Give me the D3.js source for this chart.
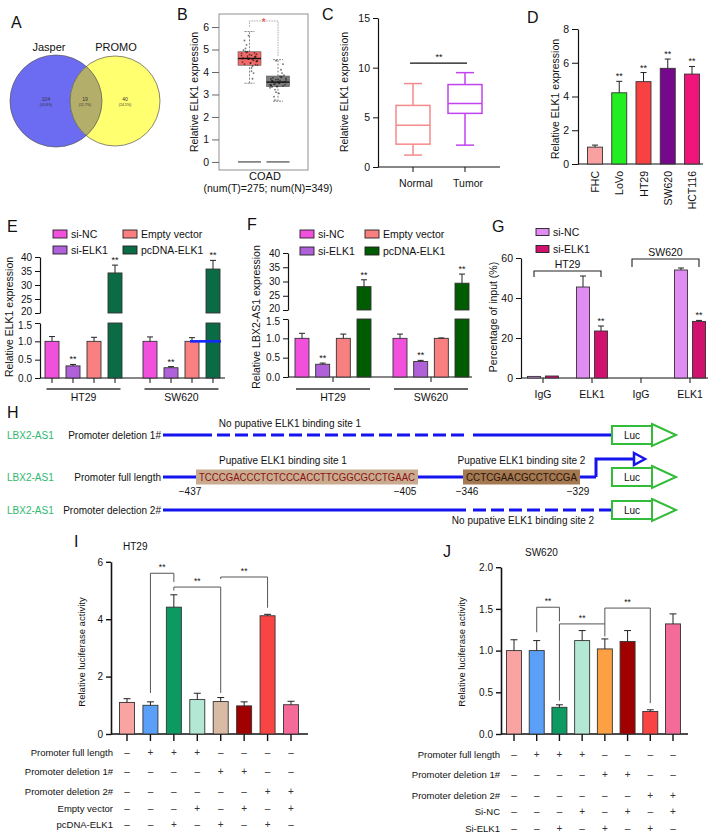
<!DOCTYPE html>
<html>
<head>
<meta charset="utf-8">
<title>ELK1 / LBX2-AS1</title>
<script src="https://cdn.jsdelivr.net/npm/d3@7"></script>
<style>
  html, body { margin: 0; padding: 0; background: #fff; }
  svg { display: block; }
</style>
</head>
<body>
<script>
'use strict';

// ---------- data ----------
var vennNames = ['Jasper', 'PROMO'];
var vennCounts = [104, 19, 40];
var vennShares = ['(63.8%)', '(11.7%)', '(24.5%)'];

var coadGroups = ['Tumor', 'Normal'];
var coadMin = [3.5, 2.7], coadQ1 = [4.3, 3.35], coadMed = [4.6, 3.55], coadQ3 = [4.9, 3.82], coadMax = [5.8, 4.55];
var coadTumorPts = [4.62, 4.55, 4.71, 4.48, 4.83, 4.39, 4.66, 4.92, 4.31, 4.58, 4.75, 4.44, 4.68, 4.87, 4.52, 4.61, 4.35, 4.79, 4.97, 4.26,
  4.64, 4.50, 4.73, 4.41, 4.85, 5.05, 4.18, 4.57, 4.69, 5.21, 3.95, 4.60, 4.77, 4.46, 5.40, 3.70, 4.90, 4.33, 5.62, 4.04];
var coadTumorJit = [-6, 3, -2, 7, -8, 1, 5, -4, 8, -1, 2, -7, 6, -3, 4, 0, -5, 7, -6, 3, -2, 8, -8, 1, 5, -4, 2, -1, 6, -3, 4, -7, 0, 7, -5, 3, -2, 6, -1, 2];
var coadNormalPts = [3.55, 3.48, 3.62, 3.40, 3.71, 3.36, 3.58, 3.80, 3.30, 3.52, 3.66, 3.44, 3.60, 3.76, 3.46, 3.57, 3.38, 3.69, 3.86, 3.22,
  3.54, 3.43, 3.64, 3.35, 3.74, 3.95, 3.10, 3.50, 3.61, 4.10, 2.90, 3.56, 3.67, 3.41, 4.35, 2.75, 3.82, 3.33, 3.05, 4.50];
var coadNormalJit = [5, -3, 2, -7, 8, -1, -5, 4, -8, 1, -2, 7, -6, 3, -4, 0, 5, -7, 6, -3, 2, -8, 8, -1, -5, 4, -2, 1, -6, 3, -4, 7, 0, -7, 5, -3, 2, -6, 1, -2];
var coadTicks = [0, 1, 2, 3, 4, 5, 6];

var tissueGroups = ['Normal', 'Tumor'];
var tissueMin = [1.2, 2.2], tissueQ1 = [2.3, 5.4], tissueMed = [4.2, 6.4], tissueQ3 = [6.2, 8.3], tissueMax = [8.4, 9.5];

var cellLines = ['FHC', 'LoVo', 'HT29', 'SW620', 'HCT116'];
var cellElk1 = [1.0, 4.22, 4.88, 5.67, 5.33];
var cellElk1Err = [1.12, 4.9, 5.42, 6.22, 5.78];

var crcLines = ['HT29', 'SW620'];
var transSeries = ['si-NC', 'si-ELK1', 'Empty vector', 'pcDNA-ELK1'];
var elk1Vals = [[1.0, 0.33, 1.0, 34.3], [1.0, 0.28, 1.0, 35.7]];
var elk1Err = [[1.13, 0.37, 1.11, 37.1], [1.12, 0.31, 1.10, 38.8]];
var lbxVals = [[1.0, 0.33, 1.0, 28.2], [1.0, 0.40, 1.0, 29.4]];
var lbxErr = [[1.13, 0.36, 1.11, 30.6], [1.11, 0.43, 1.01, 32.6]];
var lowTicks = [0, 0.5, 1.0, 1.5], highTicks = [20, 25, 30, 35, 40];

var chipCats = ['IgG', 'ELK1', 'IgG', 'ELK1'];
var chipCells = ['HT29', 'SW620'];
var chipSeries = ['si-NC', 'si-ELK1'];
var chipVals = [[0.8, 1.0], [45.5, 23.5], [0, 0], [54.0, 28.3]];
var chipErr = [[0.9, 1.2], [51.0, 26.0], [0, 0], [55.0, 28.8]];
var chipTicks = [0, 20, 40, 60];

var siteLabels = ['Pupative ELK1 binding site 1', 'Pupative ELK1 binding site 2'];
var siteSeqs = ['TCCCGACCCTCTCCCACCTTCGGCGCCTGAAC', 'CCTCGAACGCCTCCGA'];
var siteStart = [-437, -346], siteEnd = [-405, -329];
var constructNames = ['Promoter deletion 1#', 'Promoter full length', 'Promoter delection 2#'];

var lucHT29Rows = ['Promoter full length', 'Promoter deletion 1#', 'Promoter deletion 2#', 'Empty vector', 'pcDNA-ELK1'];
var lucHT29Signs = ['–+++––––', '––––++––', '––––––++', '–––+–+–+', '––+–+–+–'];
var lucHT29 = [1.1, 1.0, 4.42, 1.2, 1.13, 0.98, 4.12, 1.02];
var lucHT29Err = [1.23, 1.12, 4.85, 1.42, 1.27, 1.12, 4.17, 1.14];
var lucHT29Ticks = [0, 2, 4, 6];
var lucHT29Brackets = [[1, 2, 5.6, 1.43, 5.3], [2, 4, 5.12, 5.0, 1.43], [4, 6, 5.47, 5.4, 4.4]];

var lucSW620Rows = ['Promoter full length', 'Promoter deletion 1#', 'Promoter deletion 2#', 'Si-NC', 'Si-ELK1'];
var lucSW620Signs = ['–+++––––', '––––++––', '––––––++', '–––+–+–+', '––+–+–+–'];
var lucSW620 = [1.0, 1.0, 0.32, 1.12, 1.02, 1.11, 0.27, 1.32];
var lucSW620Err = [1.13, 1.12, 0.35, 1.24, 1.14, 1.24, 0.29, 1.44];
var lucSW620Ticks = [0, 0.5, 1.0, 1.5, 2.0];
var lucSW620Brackets = [[1, 2, 1.52, 1.22, 1.35], [2, 4, 1.32, 0.4, 1.17], [4, 6, 1.51, 1.32, 0.37]];

// ---------- helpers ----------
var FONT = '"Liberation Sans", Arial, Helvetica, sans-serif';
var svg = d3.select('body').append('svg')
	.attr('width', 716).attr('height', 837)
	.attr('font-family', FONT);
svg.append('rect').attr('width', 716).attr('height', 837).attr('fill', '#fff');

function addText(g, s, x, y, size, anchor, fill) {
	return g.append('text')
		.attr('x', x).attr('y', y)
		.attr('font-size', size)
		.attr('text-anchor', anchor || 'start')
		.attr('fill', fill || '#111')
		.text(s);
}

function vText(g, s, cx, cy, size) {
	return g.append('text')
		.attr('transform', 'translate(' + cx + ',' + cy + ') rotate(-90)')
		.attr('text-anchor', 'middle')
		.attr('dy', '0.35em')
		.attr('font-size', size)
		.attr('fill', '#111')
		.text(s);
}

function styleAxis(a, size, width) {
	a.attr('font-family', FONT).attr('font-size', size);
	a.selectAll('line').attr('stroke', '#111').attr('stroke-width', 1);
	a.select('.domain').attr('stroke', '#111').attr('stroke-width', width || 1.2);
	a.selectAll('text').attr('fill', '#111');
	return a;
}

function hLine(g, x1, x2, y, color, w) {
	return g.append('line').attr('x1', x1).attr('x2', x2).attr('y1', y).attr('y2', y)
		.attr('stroke', color || '#111').attr('stroke-width', w || 1);
}

function vLine(g, x, y1, y2, color, w) {
	return g.append('line').attr('x1', x).attr('x2', x).attr('y1', y1).attr('y2', y2)
		.attr('stroke', color || '#111').attr('stroke-width', w || 1);
}

function errBar(g, x, yTop, yBase, cap) {
	vLine(g, x, yBase, yTop, '#222', 1);
	hLine(g, x - cap / 2, x + cap / 2, yTop, '#222', 1);
}

function bar(g, x, w, y0, y1, fill) {
	g.append('rect')
		.attr('x', x - w / 2).attr('y', Math.min(y0, y1))
		.attr('width', w).attr('height', Math.abs(y1 - y0))
		.attr('fill', fill).attr('stroke', '#333').attr('stroke-width', 0.9);
}

function stars(g, x, y, size) {
	addText(g, '**', x, y, size || 9, 'middle');
}

// panel letters
[['A', 11, 28], ['B', 177, 20], ['C', 322, 20], ['D', 527, 23], ['E', 7, 232], ['F', 247, 230],
	['G', 492, 232], ['H', 7, 418], ['I', 74, 547], ['J', 443, 557]].forEach(function (p) {
	addText(svg, p[0], p[1], p[2], 16);
});

// ---------- A : venn ----------
(function () {
	var g = svg.append('g');
	var cx = [56, 115], cy = 101, r = [46, 45];
	g.append('defs').append('clipPath').attr('id', 'clipPromo')
		.append('circle').attr('cx', cx[1]).attr('cy', cy).attr('r', r[1]);
	g.append('circle').attr('cx', cx[0]).attr('cy', cy).attr('r', r[0]).attr('fill', '#6c6cf2');
	g.append('circle').attr('cx', cx[1]).attr('cy', cy).attr('r', r[1]).attr('fill', '#ffff70');
	g.append('circle').attr('cx', cx[0]).attr('cy', cy).attr('r', r[0]).attr('fill', '#b4ae6b')
		.attr('clip-path', 'url(#clipPromo)');
	[0, 1].forEach(function (i) {
		g.append('circle').attr('cx', cx[i]).attr('cy', cy).attr('r', r[i])
			.attr('fill', 'none').attr('stroke', '#555').attr('stroke-width', 0.7);
		addText(g, vennNames[i], [49, 116][i], 51, 11, 'middle');
	});
	var nx = [46, 85, 125];
	vennCounts.forEach(function (c, i) {
		addText(g, c, nx[i], 101, 5, 'middle', '#333');
		addText(g, vennShares[i], nx[i], 106, 3.6, 'middle', '#333');
	});
}());

// ---------- B : GEPIA box ----------
(function () {
	var g = svg.append('g');
	var y = d3.scaleLinear().domain([-0.36, 6.58]).range([170, 14]);
	var x = d3.scalePoint().domain(coadGroups).range([249.5, 278]);
	var fills = ['#f25a5a', '#6e6e6e'];
	var pts = [coadTumorPts, coadNormalPts], jit = [coadTumorJit, coadNormalJit];

	g.append('rect').attr('x', 219).attr('y', 14).attr('width', 89).attr('height', 156)
		.attr('fill', 'none').attr('stroke', '#777').attr('stroke-width', 0.8);
	var ax = g.append('g').attr('transform', 'translate(219,0)')
		.call(d3.axisLeft(y).tickValues(coadTicks).tickFormat(d3.format('d')).tickSize(7).tickPadding(3).tickSizeOuter(0));
	ax.select('.domain').remove();
	styleAxis(ax, 10.5);
	ax.selectAll('line').attr('stroke', '#666');
	vText(g, 'Relative ELK1 expression', 194, 92, 10.5);

	coadGroups.forEach(function (grp, i) {
		var cx = x(grp), hw = 11.5;
		[[coadMin[i], coadQ1[i]], [coadQ3[i], coadMax[i]]].forEach(function (w) {
			vLine(g, cx, y(w[0]), y(w[1]), '#666', 0.8).attr('stroke-dasharray', '2,1.5');
		});
		[coadMin[i], coadMax[i]].forEach(function (v) {
			hLine(g, cx - 5, cx + 5, y(v), '#666', 0.8).attr('stroke-dasharray', '2,1');
		});
		g.append('rect').attr('x', cx - hw).attr('width', 2 * hw)
			.attr('y', y(coadQ3[i])).attr('height', y(coadQ1[i]) - y(coadQ3[i]))
			.attr('fill', fills[i]).attr('fill-opacity', 0.9)
			.attr('stroke', '#555').attr('stroke-width', 0.6);
		pts[i].forEach(function (v, k) {
			g.append('circle').attr('cx', cx + jit[i][k]).attr('cy', y(v)).attr('r', 0.9)
				.attr('fill', '#111').attr('fill-opacity', 0.6);
		});
		hLine(g, cx - hw, cx + hw, y(coadMed[i]), '#111', 1.4);
		hLine(g, cx - hw, cx + hw, y(0), '#777', 1.6);
	});

	var x0 = x(coadGroups[0]), x1 = x(coadGroups[1]);
	g.append('path')
		.attr('d', 'M' + x0 + ',' + y(6.02) + 'V' + y(6.27) + 'H' + x1 + 'V' + y(4.67))
		.attr('fill', 'none').attr('stroke', '#888').attr('stroke-width', 0.7).attr('stroke-dasharray', '1.5,1');
	addText(g, '*', (x0 + x1) / 2, 26, 10, 'middle', '#e33');

	addText(g, 'COAD', 265, 180, 11, 'middle');
	addText(g, '(num(T)=275; num(N)=349)', 268, 192, 10.5, 'middle');
}());

// ---------- C : tissue box ----------
(function () {
	var g = svg.append('g');
	var y = d3.scaleLinear().domain([0, 15]).range([167, 18]);
	var x = d3.scalePoint().domain(tissueGroups).range([413, 465]);
	var colors = ['#f58a8a', '#c043ef'];
	var ax = g.append('g').attr('transform', 'translate(378,0)')
		.call(d3.axisLeft(y).tickValues([0, 5, 10, 15]).tickSize(5).tickSizeOuter(0));
	styleAxis(ax, 10.5);
	hLine(g, 378, 500, 167, '#111', 1.2);
	tissueGroups.forEach(function (grp, i) {
		var cx = x(grp);
		vLine(g, cx, 167, 172, '#111', 1);
		addText(g, grp, cx + 3, 187, 10.5, 'middle');
		vLine(g, cx, y(tissueMin[i]), y(tissueQ1[i]), colors[i], 1.5);
		vLine(g, cx, y(tissueQ3[i]), y(tissueMax[i]), colors[i], 1.5);
		hLine(g, cx - 9, cx + 9, y(tissueMin[i]), colors[i], 1.5);
		hLine(g, cx - 9, cx + 9, y(tissueMax[i]), colors[i], 1.5);
		g.append('rect').attr('x', cx - 17).attr('width', 34)
			.attr('y', y(tissueQ3[i])).attr('height', y(tissueQ1[i]) - y(tissueQ3[i]))
			.attr('fill', 'none').attr('stroke', colors[i]).attr('stroke-width', 1.5);
		hLine(g, cx - 17, cx + 17, y(tissueMed[i]), colors[i], 1.5);
	});
	hLine(g, x(tissueGroups[0]) - 3, x(tissueGroups[1]) + 2, y(10.45), '#111', 1.2);
	stars(g, (x(tissueGroups[0]) + x(tissueGroups[1])) / 2, y(10.45) - 3, 9);
	vText(g, 'Relative ELK1 expression', 344, 92, 10.5);
}());

// ---------- D : cell lines ----------
(function () {
	var g = svg.append('g');
	var y = d3.scaleLinear().domain([0, 8]).range([164, 29]);
	var x = d3.scalePoint().domain(cellLines).range([595, 692]);
	var colors = ['#f9a0a0', '#22ee22', '#f84242', '#76088c', '#f0157a'];
	var ax = g.append('g').attr('transform', 'translate(578,0)')
		.call(d3.axisLeft(y).tickValues([0, 2, 4, 6, 8]).tickSize(6).tickSizeOuter(0));
	styleAxis(ax, 10.5);
	hLine(g, 578, 703, 164, '#111', 1.2);
	cellLines.forEach(function (c, i) {
		var cx = x(c);
		bar(g, cx, 15, y(0), y(cellElk1[i]), colors[i]);
		errBar(g, cx, y(cellElk1Err[i]), y(cellElk1[i]), 6);
		if (i > 0) stars(g, cx, y(cellElk1Err[i]) - 2);
		g.append('text')
			.attr('transform', 'translate(' + (cx + 4) + ',171) rotate(-90)')
			.attr('text-anchor', 'end').attr('font-size', 10.5).attr('fill', '#111')
			.text(c);
	});
	vText(g, 'Relative ELK1 expression', 555, 99, 10.5);
}());

// ---------- E / F : broken axis bars ----------
function brokenPanel(o) {
	var g = svg.append('g');
	var yLo = d3.scaleLinear().domain([0, 1.5]).range(o.lo);
	var yHi = d3.scaleLinear().domain([20, 40]).range(o.hi);
	var xG = d3.scalePoint().domain(crcLines).range(o.groupX);
	var xS = d3.scalePoint().domain(transSeries).range([-o.spread, o.spread]);

	var la = g.append('g').attr('transform', 'translate(' + o.axisX + ',0)')
		.call(d3.axisLeft(yLo).tickValues(lowTicks).tickFormat(d3.format('.1f')).tickSize(5).tickSizeOuter(0));
	styleAxis(la, 10);
	la.selectAll('.tick text').filter(function (d) { return d === 1.5; }).attr('dy', '0.55em');
	var ua = g.append('g').attr('transform', 'translate(' + o.axisX + ',0)')
		.call(d3.axisLeft(yHi).tickValues(highTicks).tickFormat(d3.format('d')).tickSize(5).tickSizeOuter(0));
	styleAxis(ua, 10);
	ua.selectAll('.tick text').filter(function (d) { return d === 20; }).attr('dy', '0.15em');
	hLine(g, o.axisX, o.xEnd, yLo(0), '#111', 1.2);

	crcLines.forEach(function (cl, gi) {
		var gx = xG(cl);
		transSeries.forEach(function (s, si) {
			var cx = gx + xS(s), v = o.vals[gi][si], e = o.errs[gi][si];
			if (v <= 1.5) {
				bar(g, cx, o.barW, yLo(0), yLo(v), o.colors[si]);
				errBar(g, cx, yLo(e), yLo(v), 6);
				if (si === 1) stars(g, cx, yLo(e) - 2);
			} else {
				bar(g, cx, o.barW, yLo(0), yLo(1.5), o.colors[si]);
				bar(g, cx, o.barW, yHi(20), yHi(v), o.colors[si]);
				errBar(g, cx, yHi(e), yHi(v), 6);
				stars(g, cx, yHi(e) - 2);
			}
			if (o.tickEach) vLine(g, cx, yLo(0), yLo(0) + 5, '#111', 1);
		});
		if (!o.tickEach) vLine(g, gx, yLo(0), yLo(0) + 5, '#111', 1);
		hLine(g, gx - 37, gx + 37, o.lineY, '#333', 1.3);
		addText(g, cl, gx, o.lineY + 12, 10.5, 'middle');
	});

	transSeries.forEach(function (s, si) {
		var lx = o.legX[Math.floor(si / 2)], ly = o.legY[si % 2];
		g.append('rect').attr('x', lx).attr('y', ly - 4).attr('width', 14).attr('height', 8)
			.attr('fill', o.colors[si]).attr('stroke', '#222').attr('stroke-width', 0.9);
		addText(g, s, lx + 18, ly + 4, 10.5);
	});
	vText(g, o.yLabel, o.yLabelX, 317, 10.5);
	return { g: g, yLo: yLo, xG: xG, xS: xS };
}

var panelE = brokenPanel({
	lo: [378, 323], hi: [313, 257], axisX: 40, xEnd: 225, groupX: [83.5, 181.5], spread: 31.5, barW: 14,
	vals: elk1Vals, errs: elk1Err, colors: ['#f050dc', '#b060d8', '#f88080', '#0b6b45'],
	tickEach: true, lineY: 389, legX: [53, 123], legY: [234, 250],
	yLabel: 'Relative ELK1 expression', yLabelX: 9
});
// blue mark drawn over the SW620 columns
(function () {
	var xe = panelE.xG('SW620') + panelE.xS('Empty vector');
	var xp = panelE.xG('SW620') + panelE.xS('pcDNA-ELK1');
	hLine(panelE.g, xe - 2, xp + 8, panelE.yLo(1.0), '#1428ff', 2.6);
}());

brokenPanel({
	lo: [377, 319], hi: [310, 253], axisX: 288, xEnd: 472, groupX: [333, 431], spread: 31, barW: 14,
	vals: lbxVals, errs: lbxErr, colors: ['#f050dc', '#b060d8', '#f88080', '#005c00'],
	tickEach: false, lineY: 389, legX: [300, 365], legY: [234, 251],
	yLabel: 'Relative LBX2-AS1 expression', yLabelX: 256
});

// ---------- G : ChIP ----------
(function () {
	var g = svg.append('g');
	var y = d3.scaleLinear().domain([0, 60]).range([378, 258]);
	var x = d3.scaleBand().domain(d3.range(chipCats.length)).range([518.5, 714.5]);
	var s = d3.scalePoint().domain(chipSeries).range([-9, 9]);
	var colors = ['#e08cf2', '#d0116d'];
	var ax = g.append('g').attr('transform', 'translate(521,0)')
		.call(d3.axisLeft(y).tickValues(chipTicks).tickSize(5).tickSizeOuter(0));
	styleAxis(ax, 10.5);
	hLine(g, 521, 708, 378, '#111', 1.2);
	var cxOf = function (i) { return x(i) + x.bandwidth() / 2; };
	chipCats.forEach(function (c, i) {
		var cx = cxOf(i);
		vLine(g, cx, 378, 383, '#111', 1);
		addText(g, c, cx, 398, 10.5, 'middle');
		chipSeries.forEach(function (ser, si) {
			var v = chipVals[i][si];
			if (v <= 0) return;
			bar(g, cx + s(ser), 13, y(0), y(v), colors[si]);
			if (v > 5) errBar(g, cx + s(ser), y(chipErr[i][si]), y(v), 6);
			if (si === 1 && c === 'ELK1') stars(g, cx + s(ser), y(chipErr[i][si]) - 2.5);
		});
	});
	var brTop = [53.5, 59.5], drop = [6, 8];
	chipCells.forEach(function (cl, k) {
		var xa = cxOf(2 * k) + s('si-NC'), xb = cxOf(2 * k + 1) + s('si-ELK1'), yt = y(brTop[k]);
		g.append('path').attr('d', 'M' + xa + ',' + (yt + drop[k]) + 'V' + yt + 'H' + xb + 'V' + (yt + drop[k]))
			.attr('fill', 'none').attr('stroke', '#222').attr('stroke-width', 1.1);
		addText(g, cl, (xa + xb) / 2, yt - 3.5, 10.5, 'middle');
	});
	chipSeries.forEach(function (ser, si) {
		var ly = [232, 249][si];
		g.append('rect').attr('x', 536).attr('y', ly - 3.5).attr('width', 13).attr('height', 7)
			.attr('fill', colors[si]).attr('stroke', '#222').attr('stroke-width', 0.9);
		addText(g, ser, 553, ly + 4, 10.5);
	});
	vText(g, 'Percentage of input (%)', 493, 317, 10.5);
}());

// ---------- H : promoter constructs ----------
(function () {
	var g = svg.append('g');
	var hx = d3.scaleLinear().domain([-437, -405, -346, -329]).range([196, 418, 463, 580]);
	var rowY = [435, 477, 510];
	var blue = '#1414ee', green = '#33bb3a';
	var x0 = 163, lucX = 612;

	var seg = function (a, b, yy, dashed) {
		var l = hLine(g, a, b, yy, blue, 3);
		if (dashed) l.attr('stroke-dasharray', '13,5');
	};

	constructNames.forEach(function (name, r) {
		var yy = rowY[r];
		addText(g, 'LBX2-AS1', 7, yy + 3.5, 10, 'start', '#2fb86e');
		addText(g, name, 161, yy + 3.5, 10, 'end');
	});

	// row 1: site 1 removed
	seg(x0, hx(-437) + 3, rowY[0]);
	seg(hx(-437) + 3, hx(-346) + 2, rowY[0], true);
	seg(hx(-346) + 10, lucX, rowY[0]);
	addText(g, 'No pupative ELK1 binding site 1', 290, rowY[0] - 8, 10, 'middle');

	// row 2: full length with both sites
	seg(x0, lucX - 16, rowY[1]);
	var boxFill = ['#c9ab8f', '#a47850'], seqFill = ['#8b1010', '#2a1508'];
	siteSeqs.forEach(function (seq, k) {
		var a = hx(siteStart[k]), b = hx(siteEnd[k]);
		g.append('rect').attr('x', a).attr('y', rowY[1] - 7.5).attr('width', b - a).attr('height', 15)
			.attr('fill', boxFill[k]);
		g.append('text').attr('x', (a + b) / 2).attr('y', rowY[1] + 3.6)
			.attr('text-anchor', 'middle').attr('font-size', 10).attr('fill', seqFill[k])
			.attr('textLength', b - a - 6).attr('lengthAdjust', 'spacingAndGlyphs')
			.text(seq);
		addText(g, siteLabels[k], (a + b) / 2 + [-24, 0][k], rowY[1] - 13, 10, 'middle');
		addText(g, '−' + Math.abs(siteStart[k]), a + [-6, 4][k], rowY[1] + 17.5, 10, 'middle');
		addText(g, '−' + Math.abs(siteEnd[k]), b + [-13, -2][k], rowY[1] + 17.5, 10, 'middle');
	});
	g.append('path').attr('d', 'M' + (lucX - 16) + ',' + rowY[1] + 'V' + (rowY[1] - 18) + 'H' + (lucX + 22))
		.attr('fill', 'none').attr('stroke', blue).attr('stroke-width', 3);
	g.append('path').attr('d', 'M' + (lucX + 22) + ',' + (rowY[1] - 24) + 'L' + (lucX + 33) + ',' + (rowY[1] - 18) +
		'L' + (lucX + 22) + ',' + (rowY[1] - 12) + 'Z')
		.attr('fill', '#fff').attr('stroke', blue).attr('stroke-width', 2.5);

	// row 3: site 2 removed
	seg(x0, hx(-346) + 3, rowY[2]);
	seg(hx(-346) + 10, lucX - 9, rowY[2], true);
	seg(lucX - 9, lucX, rowY[2]);
	addText(g, 'No pupative ELK1 binding site 2', 523, rowY[2] + 14, 10, 'middle');

	rowY.forEach(function (yy) {
		g.append('path').attr('d', 'M' + (lucX + 40) + ',' + (yy - 11) + 'L' + (lucX + 64) + ',' + yy +
			'L' + (lucX + 40) + ',' + (yy + 11) + 'Z')
			.attr('fill', '#fff').attr('stroke', green).attr('stroke-width', 2);
		g.append('rect').attr('x', lucX).attr('y', yy - 9).attr('width', 40).attr('height', 18)
			.attr('fill', '#fff').attr('stroke', green).attr('stroke-width', 2);
		addText(g, 'Luc', lucX + 20, yy + 3.5, 10, 'middle');
	});
}());

// ---------- I / J : luciferase ----------
var lucColors = ['#f9a3a3', '#5aa0f8', '#0c9a62', '#b2e8d4', '#d9bba5', '#a00000', '#f94444', '#f46a98'];

function lucPanel(o) {
	var g = svg.append('g');
	var y = d3.scaleLinear().domain(o.domain).range([734, 734 - o.domain[1] * o.ppu]);
	var x = d3.scalePoint().domain(d3.range(o.vals.length)).range(o.xRange);
	var ax = g.append('g').attr('transform', 'translate(' + o.axisX + ',0)')
		.call(d3.axisLeft(y).tickValues(o.ticks).tickFormat(d3.format(o.fmt)).tickSize(5).tickSizeOuter(0));
	styleAxis(ax, 10, 1.6);
	ax.selectAll('.tick line').attr('stroke-width', 1.4);
	hLine(g, o.axisX, o.xEnd, 734, '#111', 1.6);

	o.vals.forEach(function (v, i) {
		var cx = x(i);
		vLine(g, cx, 734, 741, '#111', 1.4);
		bar(g, cx, 15, y(0), y(v), o.colors[i]);
		errBar(g, cx, y(o.errs[i]), y(v), 7);
	});

	o.brackets.forEach(function (b) {
		var xa = x(b[0]), xb = x(b[1]);
		g.append('path')
			.attr('d', 'M' + xa + ',' + y(b[3]) + 'V' + y(b[2]) + 'H' + xb + 'V' + y(b[4]))
			.attr('fill', 'none').attr('stroke', '#555').attr('stroke-width', 1);
		stars(g, (xa + xb) / 2, y(b[2]) - 3, 8.5);
	});

	o.rows.forEach(function (r, ri) {
		var yy = o.rowY[ri] + 3.5;
		addText(g, r, o.rowLabelX, yy, 9.5, 'end');
		o.signs[ri].split('').forEach(function (c, i) {
			addText(g, c, x(i), yy, 10, 'middle', '#333');
		});
	});
	addText(g, o.title, o.titleX, o.titleY, 10);
	vText(g, 'Relative luciferase activity', o.yLabelX, 652, 9.5);
}

lucPanel({
	domain: [0, 6], ppu: 28.7, axisX: 111, xEnd: 308, xRange: [127, 291],
	vals: lucHT29, errs: lucHT29Err, colors: lucColors, ticks: lucHT29Ticks, fmt: 'd',
	brackets: lucHT29Brackets, rows: lucHT29Rows, signs: lucHT29Signs,
	rowY: [752, 771, 791, 808, 824], rowLabelX: 113,
	title: 'HT29', titleX: 123, titleY: 550, yLabelX: 82
});

var swColors = lucColors.slice();
swColors[4] = '#fda043';
lucPanel({
	domain: [0, 2], ppu: 83.4, axisX: 501, xEnd: 688, xRange: [514, 673],
	vals: lucSW620, errs: lucSW620Err, colors: swColors, ticks: lucSW620Ticks, fmt: '.1f',
	brackets: lucSW620Brackets, rows: lucSW620Rows, signs: lucSW620Signs,
	rowY: [754, 774, 795, 811, 828], rowLabelX: 500,
	title: 'SW620', titleX: 525, titleY: 556, yLabelX: 462
});
</script>
</body>
</html>
